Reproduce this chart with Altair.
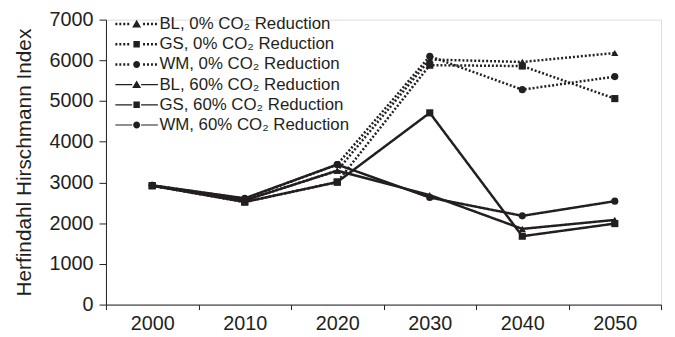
import altair as alt
import pandas as pd

years = ["2000", "2010", "2020", "2030", "2040", "2050"]
series_names = [
    "BL, 0% CO₂ Reduction",
    "GS, 0% CO₂ Reduction",
    "WM, 0% CO₂ Reduction",
    "BL, 60% CO₂ Reduction",
    "GS, 60% CO₂ Reduction",
    "WM, 60% CO₂ Reduction",
]
bl_0 = [2920, 2560, 3290, 6020, 5960, 6180]
gs_0 = [2920, 2520, 3010, 5880, 5860, 5060]
wm_0 = [2930, 2600, 3440, 6100, 5280, 5600]
bl_60 = [2920, 2560, 3290, 2690, 1860, 2080]
gs_60 = [2920, 2520, 3010, 4710, 1680, 1990]
wm_60 = [2930, 2610, 3440, 2630, 2180, 2540]

rows = []
for name, vals in zip(series_names, [bl_0, gs_0, wm_0, bl_60, gs_60, wm_60]):
    for yr, v in zip(years, vals):
        rows.append({"year": yr, "hhi": v, "series": name})
df = pd.DataFrame(rows)

INK = "#231f20"
FONT = "Liberation Sans"

dash_range = [[2, 2], [2, 2], [2, 2], [1, 0], [1, 0], [1, 0]]
width_range = [2.5, 2.5, 2.5, 1.1, 1.1, 1.1]

# legend glyphs: a short line (dotted or solid) with the series marker in the middle,
# drawn as filled sub-paths in symbol units
def _rect(x0, x1, h):
    return f"M{x0:.2f},{-h:.2f}H{x1:.2f}V{h:.2f}H{x0:.2f}Z"

def _dotted():
    parts = []
    x = -4.3
    while x < 4.3:
        if x + 0.4 <= -0.95 or x >= 0.95:
            parts.append(_rect(x, x + 0.4, 0.25))
        x += 0.8
    return "".join(parts)

def _solid():
    return _rect(-4.3, -0.9, 0.12) + _rect(0.9, 4.3, 0.12)

tri = "M0,-0.85L0.9,0.7H-0.9Z"
sq = "M-0.65,-0.65H0.65V0.65H-0.65Z"
cir = "M-0.7,0A0.7,0.7 0 1 1 0.7,0A0.7,0.7 0 1 1 -0.7,0Z"
legend_shape_range = [
    _dotted() + tri, _dotted() + sq, _dotted() + cir,
    _solid() + tri, _solid() + sq, _solid() + cir,
]

x_enc = alt.X(
    "year:O",
    scale=alt.Scale(type="band", paddingInner=0, paddingOuter=0),
    axis=alt.Axis(
        title=None, labelAngle=0, tickBand="extent", tickSize=5, labelPadding=4,
        labelFontSize=20, labelFont=FONT, labelColor=INK, domainColor=INK,
        tickColor=INK, grid=False,
    ),
)
y_enc = alt.Y(
    "hhi:Q",
    scale=alt.Scale(domain=[0, 7000], nice=False),
    axis=alt.Axis(
        values=list(range(0, 7001, 1000)), format="d", title="Herfindahl Hirschmann Index",
        grid=False, tickSize=7, labelPadding=6, labelFontSize=20, labelFont=FONT,
        labelColor=INK, titleFont=FONT, titleFontSize=21, titleFontWeight="normal",
        titleColor=INK, titlePadding=15, domainColor=INK, tickColor=INK,
    ),
)

dash_scale = alt.Scale(domain=series_names, range=dash_range)
width_scale = alt.Scale(domain=series_names, range=width_range)

leg = alt.Legend(
    title=None, orient="none", legendX=22.5, legendY=-4, padding=0,
    labelFont=FONT, labelFontSize=17, labelColor=INK, labelOffset=14.5, labelLimit=400,
    rowPadding=2.4, symbolFillColor=INK, symbolStrokeColor=INK,
)

base = alt.Chart(df)

lines = base.mark_line(color=INK).encode(
    x=x_enc,
    y=y_enc,
    strokeDash=alt.StrokeDash("series:N", scale=dash_scale, legend=leg),
    strokeWidth=alt.StrokeWidth("series:N", scale=width_scale, legend=leg),
)

marker_layers = []
for shp, group in [("triangle-up", "BL"), ("square", "GS"), ("circle", "WM")]:
    members = [s for s in series_names if s.startswith(group)]
    marker_layers.append(
        base.transform_filter(alt.FieldOneOfPredicate(field="series", oneOf=members))
        .mark_point(filled=True, color=INK, size=52, opacity=1, shape=shp)
        .encode(x=x_enc, y=y_enc)
    )

legend_layer = base.transform_filter("false").mark_point(
    filled=False, fill=INK, stroke=INK, size=64, opacity=1
).encode(
    x=x_enc,
    y=y_enc,
    shape=alt.Shape("series:N", scale=alt.Scale(domain=series_names, range=legend_shape_range), legend=leg),
    strokeDash=alt.StrokeDash("series:N", scale=dash_scale, legend=leg),
    strokeWidth=alt.StrokeWidth("series:N", scale=width_scale, legend=leg),
)

chart = (
    alt.layer(lines, *marker_layers, legend_layer)
    .properties(
        width=561, height=288,
        autosize=alt.AutoSizeParams(type="none"),
        padding={"left": 99, "top": 10, "right": 6, "bottom": 31},
    )
    .configure_view(stroke=None)
    .configure(background="white")
)

chart.save("out.html", embed_options={"renderer": "svg", "actions": False})
